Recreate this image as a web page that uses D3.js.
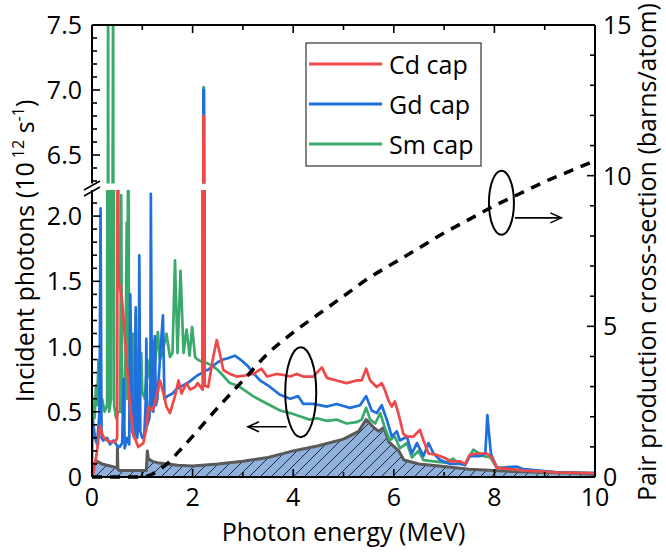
<!DOCTYPE html>
<html>
<head>
<meta charset="utf-8">
<script src="https://cdn.jsdelivr.net/npm/d3@7"></script>
<style>
  body { margin: 0; background: #fff; }
  svg text { font-family: "Open Sans", sans-serif; fill: #000; }
</style>
</head>
<body>
<div id="chart"></div>
<script>
// ---- data ----
// Cd cap spectrum (10^12 photons/s)
const cdE = [0, 0.03, 0.1, 0.16, 0.22, 0.3, 0.36, 0.46, 0.5, 0.511, 0.53, 0.59, 0.62, 0.69, 0.76, 0.82, 0.92, 1.02, 1.09, 1.12, 1.19, 1.25, 1.35, 1.42, 1.48, 1.55, 1.65, 1.72, 1.78, 1.88, 1.95, 2.05, 2.1, 2.2, 2.215, 2.225, 2.24, 2.31, 2.41, 2.48, 2.54, 2.61, 2.74, 2.88, 3.08, 3.21, 3.37, 3.48, 3.67, 3.84, 3.94, 4.07, 4.2, 4.4, 4.57, 4.67, 4.86, 5.06, 5.26, 5.36, 5.45, 5.53, 5.66, 5.76, 5.82, 5.89, 5.96, 6.02, 6.09, 6.19, 6.26, 6.39, 6.52, 6.59, 6.69, 6.85, 7.05, 7.12, 7.32, 7.42, 7.51, 7.65, 7.85, 7.95, 8.05, 8.58, 9.24, 9.93, 10];
const cdV = [0, 0.03, 0.2, 0.39, 0.31, 0.28, 0.27, 0.27, 0.3, 3.5, 1.5, 1.38, 1.25, 0.87, 0.54, 0.33, 0.23, 0.26, 0.39, 0.54, 0.51, 0.56, 0.74, 0.64, 0.54, 0.49, 0.62, 0.74, 0.64, 0.72, 0.67, 0.69, 0.72, 0.67, 6.8, 6.8, 0.7, 0.69, 0.92, 1.05, 0.95, 0.82, 0.79, 0.77, 0.78, 0.79, 0.83, 0.77, 0.79, 0.78, 0.77, 0.79, 0.77, 0.77, 0.84, 0.76, 0.74, 0.72, 0.74, 0.74, 0.83, 0.74, 0.69, 0.72, 0.67, 0.59, 0.54, 0.58, 0.49, 0.33, 0.31, 0.31, 0.36, 0.28, 0.18, 0.17, 0.14, 0.12, 0.12, 0.1, 0.17, 0.18, 0.18, 0.15, 0.07, 0.05, 0.035, 0.03, 0.03];

// Gd cap spectrum
const gdE = [0, 0.01, 0.03, 0.06, 0.1, 0.15, 0.17, 0.19, 0.22, 0.3, 0.36, 0.43, 0.5, 0.55, 0.6, 0.63, 0.65, 0.7, 0.74, 0.76, 0.8, 0.84, 0.87, 0.88, 0.9, 0.93, 0.94, 0.96, 1.0, 1.04, 1.07, 1.08, 1.1, 1.14, 1.16, 1.17, 1.19, 1.22, 1.25, 1.27, 1.3, 1.35, 1.41, 1.44, 1.5, 1.6, 1.7, 1.8, 1.9, 2.0, 2.1, 2.2, 2.215, 2.225, 2.24, 2.3, 2.4, 2.5, 2.6, 2.7, 2.84, 2.95, 3.1, 3.2, 3.34, 3.54, 3.74, 3.94, 4.1, 4.2, 4.4, 4.67, 4.86, 5.13, 5.33, 5.45, 5.56, 5.66, 5.76, 5.86, 5.96, 6.06, 6.12, 6.26, 6.36, 6.46, 6.59, 6.69, 6.79, 6.92, 7.12, 7.32, 7.42, 7.51, 7.72, 7.82, 7.86, 7.93, 8.05, 8.44, 8.58, 9.24, 9.93, 10];
const gdV = [0.1, 0.45, 0.4, 0.3, 0.25, 0.5, 2.06, 0.3, 0.28, 0.3, 0.25, 0.28, 0.24, 0.23, 0.26, 0.75, 0.22, 0.3, 0.25, 1.4, 0.35, 0.3, 1.3, 0.4, 0.3, 0.5, 1.7, 0.35, 0.3, 0.32, 0.6, 1.06, 0.4, 0.45, 0.6, 2.17, 0.55, 0.5, 1.08, 0.55, 0.6, 0.9, 1.24, 0.6, 0.62, 0.64, 0.68, 0.7, 0.72, 0.75, 0.78, 0.8, 7.0, 7.0, 0.82, 0.82, 0.85, 0.88, 0.9, 0.91, 0.93, 0.9, 0.85, 0.8, 0.74, 0.69, 0.63, 0.6, 0.62, 0.56, 0.56, 0.54, 0.56, 0.53, 0.55, 0.62, 0.51, 0.49, 0.55, 0.44, 0.31, 0.35, 0.28, 0.31, 0.18, 0.26, 0.16, 0.26, 0.18, 0.13, 0.1, 0.1, 0.09, 0.16, 0.16, 0.18, 0.475, 0.18, 0.07, 0.08, 0.06, 0.035, 0.03, 0.03];

// Sm cap spectrum
const smE = [0, 0.02, 0.05, 0.08, 0.1, 0.13, 0.15, 0.2, 0.25, 0.3, 0.32, 0.34, 0.38, 0.42, 0.44, 0.48, 0.52, 0.56, 0.58, 0.6, 0.64, 0.67, 0.69, 0.7, 0.72, 0.74, 0.78, 0.81, 0.84, 0.87, 0.9, 0.95, 0.98, 1.0, 1.05, 1.1, 1.15, 1.2, 1.25, 1.31, 1.35, 1.4, 1.48, 1.55, 1.6, 1.65, 1.7, 1.76, 1.82, 1.88, 1.94, 1.99, 2.05, 2.1, 2.2, 2.215, 2.225, 2.24, 2.3, 2.4, 2.5, 2.6, 2.74, 2.9, 3.05, 3.2, 3.34, 3.54, 3.74, 3.94, 4.1, 4.33, 4.47, 4.67, 4.86, 5.06, 5.26, 5.36, 5.45, 5.53, 5.63, 5.73, 5.83, 5.92, 6.02, 6.12, 6.26, 6.36, 6.49, 6.59, 6.79, 7.02, 7.18, 7.28, 7.42, 7.58, 7.78, 7.92, 8.05, 8.58, 9.24, 9.93, 10];
const smV = [0.63, 0.5, 0.45, 0.7, 0.55, 0.9, 0.5, 0.6, 0.5, 0.55, 8, 0.5, 0.6, 8, 0.55, 0.45, 0.5, 0.5, 2.16, 0.5, 0.45, 1.0, 1.95, 0.6, 3, 0.55, 0.5, 1.1, 0.45, 1.25, 0.6, 0.55, 0.95, 0.65, 0.6, 0.9, 0.75, 1.05, 0.85, 1.11, 0.9, 0.95, 1.1, 0.92, 0.95, 1.66, 0.95, 1.58, 0.95, 1.13, 0.93, 1.15, 0.92, 0.9, 0.88, 7.02, 7.02, 0.88, 0.87, 0.85, 0.82, 0.78, 0.72, 0.7, 0.66, 0.62, 0.59, 0.55, 0.51, 0.49, 0.47, 0.44, 0.45, 0.43, 0.44, 0.41, 0.42, 0.44, 0.53, 0.44, 0.41, 0.49, 0.37, 0.28, 0.31, 0.22, 0.26, 0.15, 0.2, 0.13, 0.12, 0.11, 0.14, 0.11, 0.1, 0.21, 0.16, 0.15, 0.07, 0.05, 0.035, 0.03, 0.03];

// open (no cap) spectrum, hatched area
const bgE = [0, 0.03, 0.1, 0.2, 0.3, 0.4, 0.5, 0.505, 0.515, 0.55, 0.7, 0.9, 1.08, 1.1, 1.12, 1.2, 1.3, 1.5, 1.7, 2.0, 2.5, 3.0, 3.5, 4.0, 4.5, 5.0, 5.3, 5.45, 5.6, 5.7, 5.8, 5.9, 6.1, 6.2, 6.5, 7.0, 7.5, 8.0, 8.5, 9.0, 9.5, 10];
const bgV = [0, 0.1, 0.12, 0.1, 0.09, 0.08, 0.07, 0.22, 0.06, 0.05, 0.05, 0.05, 0.05, 0.2, 0.14, 0.12, 0.11, 0.1, 0.09, 0.085, 0.1, 0.12, 0.15, 0.2, 0.24, 0.29, 0.35, 0.44, 0.38, 0.35, 0.38, 0.27, 0.2, 0.13, 0.1, 0.08, 0.06, 0.05, 0.04, 0.035, 0.03, 0.02];

// pair production cross-section (barns/atom), right axis
const xsE = [0, 1.022, 1.2, 1.5, 1.7, 2, 2.5, 3, 3.5, 4, 4.5, 5, 5.5, 6, 6.5, 7, 7.5, 8, 8.5, 9, 9.5, 10];
const xsV = [0, 0, 0.1, 0.45, 0.8, 1.35, 2.3, 3.2, 4.1, 4.8, 5.4, 6.0, 6.6, 7.1, 7.6, 8.1, 8.55, 9.0, 9.4, 9.8, 10.15, 10.5];

const seriesNames = ["Cd cap", "Gd cap", "Sm cap"];
const seriesColors = ["#f04848", "#1f70dc", "#3aaa6c"];

const xTicks = [0, 2, 4, 6, 8, 10];
const yLoTicks = [0, 0.5, 1.0, 1.5, 2.0];
const yHiTicks = [6.5, 7.0, 7.5];
const yRTicks = [0, 5, 10, 15];

// ---- layout ----
const svgWidth = 666, svgHeight = 556;
const pLeft = 92, pRight = 595, pTop = 25, pBottom = 477;
const loTop = 190, hiBottom = 183.6;

const svg = d3.select("#chart").append("svg")
    .attr("width", svgWidth)
    .attr("height", svgHeight);

const x = d3.scaleLinear().domain([0, 10]).range([pLeft, pRight]);
const yLo = d3.scaleLinear().domain([0, 2.2]).range([pBottom, loTop]);
const yHi = d3.scaleLinear().domain([6.28, 7.5]).range([hiBottom, pTop]);
const yR = d3.scaleLinear().domain([0, 15]).range([pBottom, pTop]);

const defs = svg.append("defs");
defs.append("clipPath").attr("id", "clipLo").append("rect")
    .attr("x", pLeft).attr("y", loTop).attr("width", pRight - pLeft).attr("height", pBottom - loTop);
defs.append("clipPath").attr("id", "clipHi").append("rect")
    .attr("x", pLeft).attr("y", pTop).attr("width", pRight - pLeft).attr("height", hiBottom - pTop);
const pat = defs.append("pattern").attr("id", "hatch")
    .attr("patternUnits", "userSpaceOnUse").attr("width", 11).attr("height", 11);
pat.append("rect").attr("width", 11).attr("height", 11).attr("fill", "#8fb1db");
pat.append("path").attr("d", "M-1,12 L12,-1 M-3,3 L3,-3 M8,14 L14,8")
    .attr("stroke", "#1a2a3a").attr("stroke-width", 1);

// hatched area (lower segment only)
const bg = bgE.map((e, i) => [e, bgV[i]]);
const gLo = svg.append("g").attr("clip-path", "url(#clipLo)");
const gHi = svg.append("g").attr("clip-path", "url(#clipHi)");

gLo.append("path").datum(bg)
    .attr("d", d3.area().x(d => x(d[0])).y0(yLo(0)).y1(d => yLo(d[1])))
    .attr("fill", "url(#hatch)");
gLo.append("path").datum(bg)
    .attr("d", d3.line().x(d => x(d[0])).y(d => yLo(d[1])))
    .attr("fill", "none").attr("stroke", "#5a5a5a").attr("stroke-width", 3)
    .attr("stroke-linejoin", "round");

// spectra, drawn green -> blue -> red so red sits on top
const spectra = [
    { E: smE, V: smV, color: seriesColors[2] },
    { E: gdE, V: gdV, color: seriesColors[1] },
    { E: cdE, V: cdV, color: seriesColors[0] }
];
[[gLo, yLo], [gHi, yHi]].forEach(([g, ys]) => {
    spectra.forEach(s => {
        const pts = s.E.map((e, i) => [e, s.V[i]]);
        g.append("path").datum(pts)
            .attr("d", d3.line().x(d => x(d[0])).y(d => ys(d[1])))
            .attr("fill", "none")
            .attr("stroke", s.color)
            .attr("stroke-width", 2.7)
            .attr("stroke-linejoin", "round");
    });
});

// cross-section, dashed
const xs = xsE.map((e, i) => [e, xsV[i]]);
svg.append("path").datum(xs)
    .attr("d", d3.line().curve(d3.curveMonotoneX).x(d => x(d[0])).y(d => yR(d[1])))
    .attr("fill", "none").attr("stroke", "#000").attr("stroke-width", 3.5)
    .attr("stroke-dasharray", "10,8");

// ---- axes ----
const axisG = svg.append("g");
function seg(x1, y1, x2, y2, w) {
    axisG.append("line").attr("x1", x1).attr("y1", y1).attr("x2", x2).attr("y2", y2)
        .attr("stroke", "#000").attr("stroke-width", w);
}
seg(pLeft, pBottom, pRight, pBottom, 2);
seg(pLeft, pTop, pRight, pTop, 2);
seg(pRight, pTop, pRight, pBottom, 2);
seg(pLeft, pBottom, pLeft, loTop, 2);
seg(pLeft, hiBottom, pLeft, pTop, 2);

function ticks(vals, fn) {
    vals.forEach(v => { const t = fn(v); seg(t[0], t[1], t[2], t[3], 1.6); });
}
const minorX = d3.range(1, 10, 2);
ticks(xTicks, v => [x(v), pBottom, x(v), pBottom - 8]);
ticks(minorX, v => [x(v), pBottom, x(v), pBottom - 5]);
ticks(xTicks, v => [x(v), pTop, x(v), pTop + 8]);
ticks(minorX, v => [x(v), pTop, x(v), pTop + 5]);
ticks(yLoTicks, v => [pLeft, yLo(v), pLeft + 8, yLo(v)]);
ticks([0.1, 0.2, 0.3, 0.4, 0.6, 0.7, 0.8, 0.9, 1.1, 1.2, 1.3, 1.4, 1.6, 1.7, 1.8, 1.9, 2.1],
    v => [pLeft, yLo(v), pLeft + 5, yLo(v)]);
ticks(yHiTicks, v => [pLeft, yHi(v), pLeft + 8, yHi(v)]);
ticks([6.3, 6.4, 6.6, 6.7, 6.8, 6.9, 7.1, 7.2, 7.3, 7.4], v => [pLeft, yHi(v), pLeft + 5, yHi(v)]);
ticks(yRTicks, v => [pRight, yR(v), pRight - 8, yR(v)]);
ticks(d3.range(1, 15).filter(v => v % 5 !== 0), v => [pRight, yR(v), pRight - 5, yR(v)]);

// break marks on the left axis
seg(84, 190, 100, 181, 1.6);
seg(84, 196, 100, 187, 1.6);

const fs = 25;
xTicks.forEach(v => {
    axisG.append("text").attr("x", x(v)).attr("y", 506).attr("text-anchor", "middle")
        .attr("font-size", fs).text(v);
});
const fmt = d => d === 0 ? "0" : d3.format(".1f")(d);
yLoTicks.forEach(v => {
    axisG.append("text").attr("x", pLeft - 10).attr("y", yLo(v) + 9).attr("text-anchor", "end")
        .attr("font-size", fs).text(fmt(v));
});
yHiTicks.forEach(v => {
    axisG.append("text").attr("x", pLeft - 10).attr("y", yHi(v) + 9).attr("text-anchor", "end")
        .attr("font-size", fs).text(fmt(v));
});
yRTicks.forEach(v => {
    axisG.append("text").attr("x", pRight + 8).attr("y", yR(v) + 9).attr("text-anchor", "start")
        .attr("font-size", fs).text(v);
});

// axis titles
svg.append("text").attr("x", (pLeft + pRight) / 2).attr("y", 541).attr("text-anchor", "middle")
    .attr("font-size", fs).text("Photon energy (MeV)");

const lt = svg.append("text").attr("transform", "translate(34,251) rotate(-90)")
    .attr("text-anchor", "middle").attr("font-size", fs);
lt.append("tspan").text("Incident photons (10");
lt.append("tspan").attr("font-size", 16).attr("dy", -10).text(" 12");
lt.append("tspan").attr("dy", 10).text(" s");
lt.append("tspan").attr("font-size", 16).attr("dy", -10).text("-1");
lt.append("tspan").attr("dy", 10).text(")");

svg.append("text").attr("transform", "translate(656,252) rotate(-90)")
    .attr("text-anchor", "middle").attr("font-size", fs)
    .text("Pair production cross-section (barns/atom)");

// legend
const lg = svg.append("g");
lg.append("rect").attr("x", 306).attr("y", 43).attr("width", 175).attr("height", 123)
    .attr("fill", "#fff").attr("stroke", "#333").attr("stroke-width", 1.2);
seriesNames.forEach((n, i) => {
    const yy = 64 + i * 40;
    lg.append("line").attr("x1", 309).attr("x2", 382).attr("y1", yy).attr("y2", yy)
        .attr("stroke", seriesColors[i]).attr("stroke-width", 3);
    lg.append("text").attr("x", 389).attr("y", yy + 10).attr("font-size", fs).text(n);
});

// annotations: ellipses + arrows pointing to each axis
function arrow(x1, x2, yy) {
    const dir = Math.sign(x2 - x1);
    svg.append("line").attr("x1", x1).attr("x2", x2).attr("y1", yy).attr("y2", yy)
        .attr("stroke", "#000").attr("stroke-width", 1.6);
    svg.append("path")
        .attr("d", `M${x2 - dir * 11},${yy - 5} L${x2},${yy} L${x2 - dir * 11},${yy + 5}`)
        .attr("fill", "none").attr("stroke", "#000").attr("stroke-width", 1.6);
}
svg.append("ellipse").attr("cx", x(4.15)).attr("cy", yLo(0.65)).attr("rx", 15.5).attr("ry", 45)
    .attr("fill", "none").attr("stroke", "#000").attr("stroke-width", 2);
arrow(x(3.87), x(3.1), yLo(0.385));
svg.append("ellipse").attr("cx", x(8.14)).attr("cy", yR(9.1)).attr("rx", 12.5).attr("ry", 32)
    .attr("fill", "none").attr("stroke", "#000").attr("stroke-width", 2);
arrow(x(8.41), x(9.33), yR(8.6));
</script>
</body>
</html>
